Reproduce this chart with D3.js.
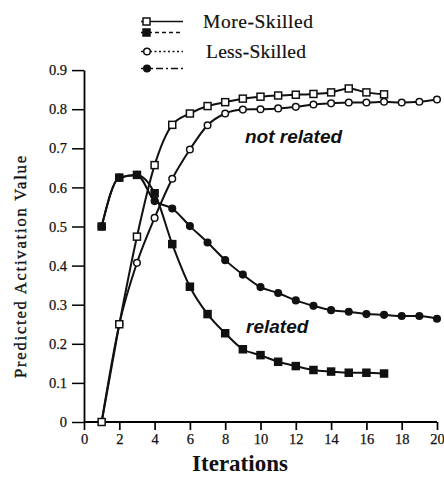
<!DOCTYPE html>
<html>
<head>
<meta charset="utf-8">
<script src="https://cdn.jsdelivr.net/npm/d3@7"></script>
<style>
  html, body { margin: 0; padding: 0; background: #fff; }
  svg { display: block; }
</style>
</head>
<body>
<svg id="chart" width="444" height="487"></svg>
<script>
// ---- data ----
const msNotRelatedX = [1,2,3,4,5,6,7,8,9,10,11,12,13,14,15,16,17];
const msNotRelated  = [0,0.25,0.474,0.657,0.76,0.789,0.808,0.818,0.827,0.832,0.835,0.837,0.839,0.843,0.853,0.843,0.838];

const msRelatedX = [1,2,3,4,5,6,7,8,9,10,11,12,13,14,15,16,17];
const msRelated  = [0.50,0.625,0.632,0.585,0.455,0.346,0.276,0.227,0.186,0.171,0.154,0.143,0.133,0.129,0.126,0.126,0.124];

const lsNotRelatedX = [1,2,3,4,5,6,7,8,9,10,11,12,13,14,15,16,17,18,19,20];
const lsNotRelated  = [0,0.25,0.407,0.522,0.622,0.697,0.759,0.789,0.799,0.80,0.802,0.806,0.812,0.815,0.817,0.817,0.819,0.817,0.819,0.825];

const lsRelatedX = [1,2,3,4,5,6,7,8,9,10,11,12,13,14,15,16,17,18,19,20];
const lsRelated  = [0.50,0.625,0.632,0.565,0.546,0.501,0.459,0.414,0.377,0.345,0.330,0.311,0.297,0.286,0.282,0.276,0.274,0.271,0.271,0.264];

const xTicks = [0,2,4,6,8,10,12,14,16,18,20];
const yTicks = [0,0.1,0.2,0.3,0.4,0.5,0.6,0.7,0.8,0.9];
const yTickLabels = ["0","0.1","0.2","0.3","0.4","0.5","0.6","0.7","0.8","0.9"];
const legendGroups = ["More-Skilled","Less-Skilled"];
const xTitle = "Iterations";
const yTitle = "Predicted Activation Value";
const annotations = ["not related","related"];

// ---- drawing ----
const svg = d3.select("#chart");
const serif = "'Liberation Serif','Times New Roman',serif";
const sans = "'Liberation Sans',Arial,sans-serif";

const x = d3.scaleLinear().domain([0,20]).range([84,437]);
const y = d3.scaleLinear().domain([0,0.9]).range([422,70.1]);

// axes
const xAxis = d3.axisBottom(x).tickValues(xTicks).tickSize(8).tickPadding(4).tickSizeOuter(0).tickFormat(d3.format("d"));
const gx = svg.append("g").attr("transform","translate(0,422)").attr("font-family",serif).call(xAxis);
gx.attr("font-family",serif);
gx.select(".domain").attr("stroke","#000").attr("stroke-width",1.8).attr("d","M84,0H437");
gx.selectAll(".tick line").attr("stroke","#000").attr("stroke-width",1.7);
gx.selectAll("text").style("font-family",serif).attr("font-size",14.5).attr("fill","#111")
  .attr("stroke","#111").attr("stroke-width",0.25);

const yAxis = d3.axisLeft(y).tickValues(yTicks).tickSize(12).tickPadding(5).tickSizeOuter(0)
  .tickFormat((d,i) => yTickLabels[i]);
const gy = svg.append("g").attr("transform","translate(84,0)").call(yAxis);
gy.attr("font-family",serif);
gy.select(".domain").attr("stroke","#000").attr("stroke-width",1.8);
gy.selectAll(".tick line").attr("stroke","#000").attr("stroke-width",1.5);
gy.selectAll("text").style("font-family",serif).attr("font-size",14.5).attr("fill","#111")
  .attr("stroke","#111").attr("stroke-width",0.25);

// titles
svg.append("text").attr("x",240).attr("y",471).attr("text-anchor","middle")
  .style("font-family",serif).attr("font-weight","bold").attr("font-size",23).attr("fill","#111").text(xTitle);
svg.append("text").attr("transform","translate(26,267) rotate(-90)").attr("text-anchor","middle")
  .style("font-family",serif).attr("font-size",16.5).attr("fill","#111").attr("stroke","#111").attr("stroke-width",0.35)
  .attr("textLength",222).attr("lengthAdjust","spacing").text(yTitle);

// lines
const line = d3.line().x(d => x(d[0])).y(d => y(d[1])).curve(d3.curveMonotoneX);
function series(xs, ys){ return xs.map((v,i)=>[v, ys[i]]); }
const sets = [
  {data: series(lsRelatedX, lsRelated), shape:"circle", fill:"#111"},
  {data: series(msRelatedX, msRelated), shape:"square", fill:"#111"},
  {data: series(lsNotRelatedX, lsNotRelated), shape:"circle", fill:"#fff"},
  {data: series(msNotRelatedX, msNotRelated), shape:"square", fill:"#fff"}
];
sets.forEach(s => {
  svg.append("path").attr("d", line(s.data)).attr("fill","none").attr("stroke","#111").attr("stroke-width",2);
});
sets.forEach(s => {
  const g = svg.append("g");
  if (s.shape === "square") {
    g.selectAll("rect").data(s.data).join("rect")
      .attr("x", d => x(d[0]) - 3.5).attr("y", d => y(d[1]) - 3.5)
      .attr("width",7).attr("height",7)
      .attr("fill", s.fill).attr("stroke","#111").attr("stroke-width",1.5);
  } else {
    g.selectAll("circle").data(s.data).join("circle")
      .attr("cx", d => x(d[0])).attr("cy", d => y(d[1])).attr("r",3.3)
      .attr("fill", s.fill).attr("stroke","#111").attr("stroke-width",1.5);
  }
});

// annotations
svg.append("text").attr("x",245).attr("y",143).style("font-family",sans).attr("font-weight","bold")
  .attr("font-style","italic").attr("font-size",19).attr("fill","#111").text(annotations[0]);
svg.append("text").attr("x",246).attr("y",333).style("font-family",sans).attr("font-weight","bold")
  .attr("font-style","italic").attr("font-size",19).attr("fill","#111").text(annotations[1]);

// legend
const leg = svg.append("g");
const legRows = [
  {y:21.5, dash:null, shape:"square", fill:"#fff"},
  {y:32.5, dash:"4,3", shape:"square", fill:"#111"},
  {y:51.5, dash:"2,2.5", shape:"circle", fill:"#fff"},
  {y:68.5, dash:"7,3,2,3", shape:"circle", fill:"#111"}
];
legRows.forEach(r => {
  leg.append("line").attr("x1",141).attr("x2",183).attr("y1",r.y).attr("y2",r.y)
    .attr("stroke","#111").attr("stroke-width",1.7).attr("stroke-dasharray", r.dash);
  if (r.shape === "square") {
    leg.append("rect").attr("x",143).attr("y",r.y-3.5).attr("width",7).attr("height",7)
      .attr("fill",r.fill).attr("stroke","#111").attr("stroke-width",1.5);
  } else {
    leg.append("circle").attr("cx",147).attr("cy",r.y).attr("r",3.3)
      .attr("fill",r.fill).attr("stroke","#111").attr("stroke-width",1.5);
  }
});
leg.append("text").attr("x",203).attr("y",28).style("font-family",serif).attr("font-size",19.5)
  .attr("fill","#111").attr("stroke","#111").attr("stroke-width",0.2)
  .attr("textLength",110).attr("lengthAdjust","spacing").text(legendGroups[0]);
leg.append("text").attr("x",206).attr("y",58).style("font-family",serif).attr("font-size",19.5)
  .attr("fill","#111").attr("stroke","#111").attr("stroke-width",0.2)
  .attr("textLength",100).attr("lengthAdjust","spacing").text(legendGroups[1]);
</script>
</body>
</html>
